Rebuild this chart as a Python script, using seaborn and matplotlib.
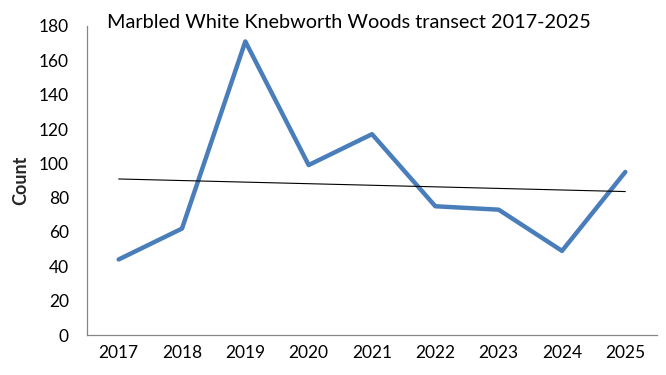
import matplotlib
matplotlib.use("Agg")
import matplotlib.pyplot as plt
import seaborn as sns
import numpy as np
import pandas as pd

years = [2017, 2018, 2019, 2020, 2021, 2022, 2023, 2024, 2025]
counts = [44, 62, 171, 99, 117, 75, 73, 49, 95]
yticks = [0, 20, 40, 60, 80, 100, 120, 140, 160, 180]
title = "Marbled White Knebworth Woods transect 2017-2025"
ylabel = "Count"

sns.set_theme(style="white")
plt.rcParams['font.family'] = ['Lato', 'DejaVu Sans']

df = pd.DataFrame({"year": years, "count": counts})

fig = plt.figure(figsize=(6.66, 3.75), dpi=100)
ax = fig.add_axes([87/666, 1-335/375, (657-87)/666, (335-26)/375])

sns.lineplot(data=df, x="year", y="count", ax=ax, color="#4A7EBB", linewidth=3.2)
sns.regplot(data=df, x="year", y="count", ax=ax, scatter=False, ci=None,
            color="black", line_kws={"linewidth": 0.8})

ax.set_xlim(years[0]-0.5, years[-1]+0.5)
ax.set_ylim(0, 180)
ax.set_xticks(years)
ax.set_xticklabels([str(y) for y in years])
ax.set_yticks(yticks)
ax.tick_params(axis='both', length=0, labelsize=12.5, colors='black')
ax.tick_params(axis='y', pad=13)
ax.tick_params(axis='x', pad=7)
ax.set_xlabel("")
ax.set_ylabel(ylabel, fontsize=13, fontweight='bold', labelpad=7)
for s in ["top", "right"]:
    ax.spines[s].set_visible(False)
for s in ["left", "bottom"]:
    ax.spines[s].set_color("#868686")
    ax.spines[s].set_linewidth(0.9)

fig.text(107/666, 1-22/375, title, ha='left', va='center', fontsize=14.3, color='black')

fig.savefig("out.png", dpi=100)
